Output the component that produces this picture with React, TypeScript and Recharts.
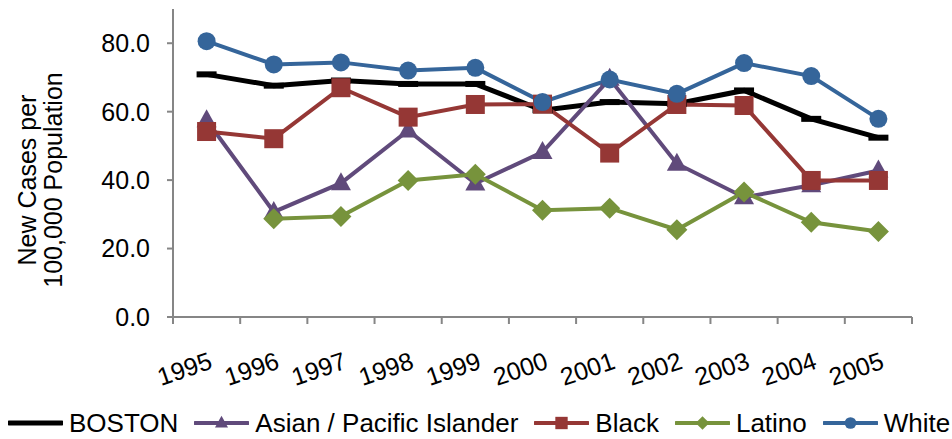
import { Line, LineChart, XAxis, YAxis } from "recharts";

const years = ["1995", "1996", "1997", "1998", "1999", "2000", "2001", "2002", "2003", "2004", "2005"];
const boston = [70.9, 67.6, 69.1, 68.1, 68.1, 60.4, 62.8, 62.3, 66.2, 57.9, 52.4];
const asian = [57.5, 30.7, 39.1, 54.5, 39.0, 48.2, 69.6, 44.8, 35.0, 38.5, 42.8];
const black = [54.2, 52.1, 67.0, 58.4, 62.1, 62.2, 47.9, 62.1, 61.8, 39.9, 39.9];
const latino = [null, 28.7, 29.4, 39.9, 41.7, 31.2, 31.8, 25.5, 36.5, 27.7, 25.0];
const white = [80.6, 73.8, 74.4, 72.0, 72.8, 62.8, 69.4, 65.2, 74.2, 70.4, 57.9];
const yTicks = [0, 20, 40, 60, 80];

const data = years.map((year, i) => ({
  idx: i,
  year,
  boston: boston[i],
  asian: asian[i],
  black: black[i],
  latino: latino[i],
  white: white[i],
}));

// ticks on the band edges (Excel style) plus centres for the labels
const xTicks = years.flatMap((_, i) => [i - 0.5, i]).concat(years.length - 0.5);

const FONT = "'Liberation Sans', Arial, sans-serif";
const AXIS = "#868686";

type Kind = "dash" | "triangle" | "square" | "diamond" | "circle";

const Marker = ({ kind, cx, cy, color, s = 1 }: { kind: Kind; cx: number; cy: number; color: string; s?: number }) => {
  if (kind === "dash") return <rect x={cx - 10 * s} y={cy - 3 * s} width={20 * s} height={6 * s} fill={color} />;
  if (kind === "square") return <rect x={cx - 9.5 * s} y={cy - 9.5 * s} width={19 * s} height={19 * s} fill={color} />;
  if (kind === "circle") return <circle cx={cx} cy={cy} r={9 * s} fill={color} />;
  if (kind === "diamond")
    return (
      <polygon
        points={`${cx},${cy - 10.5 * s} ${cx + 10.5 * s},${cy} ${cx},${cy + 10.5 * s} ${cx - 10.5 * s},${cy}`}
        fill={color}
      />
    );
  return (
    <polygon
      points={`${cx},${cy - 11 * s} ${cx + 10 * s},${cy + 7 * s} ${cx - 10 * s},${cy + 7 * s}`}
      fill={color}
    />
  );
};

const dotFor = (kind: Kind, color: string) => (props: any) => {
  const { cx, cy, index, value } = props;
  if (value == null || cx == null || cy == null) return <g key={index} />;
  return (
    <g key={index}>
      <Marker kind={kind} cx={cx} cy={cy} color={color} />
    </g>
  );
};

const series: { key: string; name: string; color: string; kind: Kind; width: number }[] = [
  { key: "boston", name: "BOSTON", color: "#000000", kind: "dash", width: 5 },
  { key: "asian", name: "Asian / Pacific Islander", color: "#604A7B", kind: "triangle", width: 4 },
  { key: "black", name: "Black", color: "#953735", kind: "square", width: 4 },
  { key: "latino", name: "Latino", color: "#77933C", kind: "diamond", width: 4 },
  { key: "white", name: "White", color: "#35659A", kind: "circle", width: 4 },
];

const XTick = (props: any) => {
  const { x, y, payload } = props;
  const v = payload.value;
  if (!Number.isInteger(v)) {
    return <line x1={x} y1={y} x2={x} y2={y + 7} stroke={AXIS} strokeWidth={2} />;
  }
  return (
    <text
      x={x + 7}
      y={y + 51}
      transform={`rotate(-19, ${x + 7}, ${y + 51})`}
      textAnchor="end"
      fontSize={25}
      fontFamily={FONT}
      fill="#000"
    >
      {years[v]}
    </text>
  );
};

const yLabel = () => (
  <text transform="translate(0,180) rotate(-90)" textAnchor="middle" fontSize={25} fontFamily={FONT} fill="#000">
    <tspan x={0} y={36}>New Cases per</tspan>
    <tspan x={0} y={62}>100,000 Population</tspan>
  </text>
);

export default function App() {
  return (
    <div style={{ position: "absolute", left: 0, top: 0, width: 952, height: 439, background: "#fff" }}>
      <LineChart width={952} height={439} data={data} margin={{ top: 9, right: 40, left: 0, bottom: 0 }}>
        <XAxis
          type="number"
          dataKey="idx"
          domain={[-0.5, years.length - 0.5]}
          ticks={xTicks}
          interval={0}
          tickSize={0}
          tickMargin={0}
          tickLine={false}
          tick={<XTick />}
          height={122}
          axisLine={{ stroke: AXIS, strokeWidth: 2 }}
        />
        <YAxis
          domain={[0, 90]}
          ticks={yTicks}
          interval={0}
          width={173}
          tickSize={6}
          tickMargin={17}
          tickFormatter={(v: number) => v.toFixed(1)}
          tick={{ fontSize: 25, fontFamily: FONT, fill: "#000" }}
          tickLine={{ stroke: AXIS, strokeWidth: 2 }}
          axisLine={{ stroke: AXIS, strokeWidth: 2 }}
          label={yLabel}
        />
        {series.map((s) => (
          <Line
            key={s.key}
            dataKey={s.key}
            name={s.name}
            stroke={s.color}
            strokeWidth={s.width}
            dot={dotFor(s.kind, s.color)}
            activeDot={false}
            isAnimationActive={false}
            connectNulls={false}
          />
        ))}
      </LineChart>
      <div
        style={{
          position: "absolute",
          left: 8,
          top: 407,
          display: "flex",
          alignItems: "center",
          gap: 16,
          fontFamily: FONT,
          fontSize: 26,
          lineHeight: "32px",
          whiteSpace: "nowrap",
        }}
      >
        {series.map((s) => (
          <div key={s.key} style={{ display: "flex", alignItems: "center" }}>
            <svg width={55} height={20}>
              <line x1={1} y1={10} x2={54} y2={10} stroke={s.color} strokeWidth={s.width} strokeLinecap="round" />
              {s.kind !== "dash" && <Marker kind={s.kind} cx={27.5} cy={10} color={s.color} s={0.65} />}
            </svg>
            <span style={{ marginLeft: 6 }}>{s.name}</span>
          </div>
        ))}
      </div>
    </div>
  );
}
